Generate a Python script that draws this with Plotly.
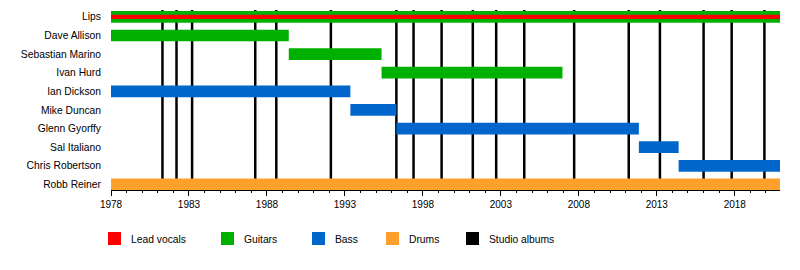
import plotly.graph_objects as go

# ---- data ----
members = ["Lips", "Dave Allison", "Sebastian Marino", "Ivan Hurd", "Ian Dickson",
           "Mike Duncan", "Glenn Gyorffy", "Sal Italiano", "Chris Robertson", "Robb Reiner"]
roles = ["Guitars", "Guitars", "Guitars", "Guitars", "Bass",
         "Bass", "Bass", "Bass", "Bass", "Drums"]
starts = [1978.0, 1978.0, 1989.4, 1995.35, 1978.0, 1993.35, 1996.3, 2011.85, 2014.4, 1978.0]
ends = [2020.9, 1989.4, 1995.35, 2006.95, 1993.35, 1996.3, 2011.85, 2014.4, 2020.9, 2020.9]
vocal_member = "Lips"
vocal_start, vocal_end = 1978.0, 2020.9
albums = [1981.3, 1982.2, 1983.2, 1987.25, 1988.6, 1992.1, 1996.3, 1997.4, 1999.2,
          2001.2, 2002.7, 2004.5, 2007.7, 2011.2, 2013.2, 2016.0, 2017.8, 2019.9]
legend_labels = ["Lead vocals", "Guitars", "Bass", "Drums", "Studio albums"]
x_ticks = [1978, 1983, 1988, 1993, 1998, 2003, 2008, 2013, 2018]

colors = {"Lead vocals": "#ff0000", "Guitars": "#00b000", "Bass": "#0066cc",
          "Drums": "#ffa02c", "Studio albums": "#000000"}

FONT = "Liberation Sans, Arial, sans-serif"
fig = go.Figure()

ypos = {m: i for i, m in enumerate(members)}
for role in ["Guitars", "Bass", "Drums"]:
    idx = [i for i, r in enumerate(roles) if r == role]
    fig.add_trace(go.Bar(
        orientation="h",
        y=[ypos[members[i]] for i in idx],
        base=[starts[i] for i in idx],
        x=[ends[i] - starts[i] for i in idx],
        width=0.63, marker=dict(color=colors[role], line=dict(width=0)),
        showlegend=False, hoverinfo="skip"))

fig.add_trace(go.Bar(
    orientation="h", y=[ypos[vocal_member]], base=[vocal_start],
    x=[vocal_end - vocal_start], width=0.22,
    marker=dict(color=colors["Lead vocals"], line=dict(width=0)),
    showlegend=False, hoverinfo="skip"))

for a in albums:
    fig.add_shape(type="line", xref="x", yref="paper", x0=a, x1=a, y0=0, y1=1,
                  line=dict(color="black", width=2.5), layer="below")

# legend (custom, positioned in pixels -> paper)
L, R, T, B = 111, 20, 10, 80
PW, PH = 800 - L - R, 270 - T - B
def px_x(p):
    return (p - L) / PW
def px_y(p):
    return (T + PH - p) / PH
leg_sq_x = [108, 221, 312, 386, 466]
for lab, sx in zip(legend_labels, leg_sq_x):
    fig.add_shape(type="rect", xref="paper", yref="paper",
                  x0=px_x(sx), x1=px_x(sx + 13), y0=px_y(245), y1=px_y(232),
                  fillcolor=colors[lab], line=dict(width=0))
    fig.add_annotation(xref="paper", yref="paper", x=px_x(sx + 21), y=px_y(239),
                       text=lab, showarrow=False, xanchor="left", yanchor="middle",
                       font=dict(size=10.3, color="black", family=FONT))

fig.update_layout(
    width=800, height=270, margin=dict(l=L, r=R, t=T, b=B),
    barmode="overlay", plot_bgcolor="white", paper_bgcolor="white",
    font=dict(family=FONT, size=10.3, color="black"),
    xaxis=dict(range=[1978, 2020.9], tickvals=x_ticks, showgrid=False, zeroline=False,
               ticks="outside", ticklen=5, tickcolor="black", showline=True,
               linecolor="black", linewidth=1, tickfont=dict(size=10),
               minor=dict(dtick=1, tick0=1978, ticks="outside", ticklen=2, tickcolor="black", showgrid=False)),
    yaxis=dict(range=[9.3, -0.37], tickvals=list(range(len(members))), ticktext=members,
               showgrid=False, zeroline=False, ticks="", ticklabelstandoff=9),
)
fig.write_html("out.html")
